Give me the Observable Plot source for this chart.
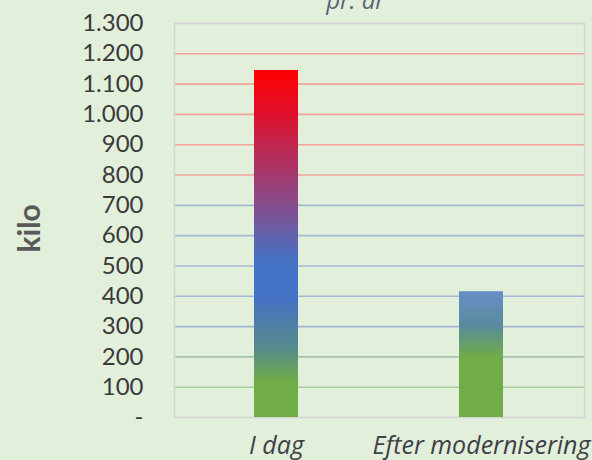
<!DOCTYPE html>
<html>
<head>
<meta charset="utf-8">
<script src="https://cdn.jsdelivr.net/npm/d3@7"></script>
<script src="https://cdn.jsdelivr.net/npm/@observablehq/plot@0.6"></script>
<style>
  html, body { margin: 0; padding: 0; background: #e2efda; }
  #chart { width: 592px; height: 460px; overflow: hidden; }
</style>
</head>
<body>
<div id="chart"></div>
<script>
const categories = ["I dag", "Efter modernisering"];
const values = [1145, 415];
const yTicks = [0, 100, 200, 300, 400, 500, 600, 700, 800, 900, 1000, 1100, 1200, 1300];
const gridValues = [100, 200, 300, 400, 500, 600, 700, 800, 900, 1000, 1100, 1200];
const titleText = "pr. år";
const yLabel = "kilo";

const data = categories.map((c, i) => ({category: c, value: values[i], idx: i}));

const fmt = v => v === 0 ? "-" : d3.format(",")(v).replace(/,/g, ".");
const gridColor = d3.scaleLinear()
  .domain([0, 100, 300, 750, 800, 1300])
  .range(["#a8cf96", "#a8cf96", "#a4b8d6", "#a4b8d6", "#f2a49c", "#f2a49c"])
  .clamp(true);

const defs = () => {
  const d = d3.create("svg:defs");
  const g0 = d.append("linearGradient").attr("id", "grad0")
    .attr("x1", 0).attr("y1", 0).attr("x2", 0).attr("y2", 1);
  [[0, "#ff0000"], [0.12, "#e0102a"], [0.38, "#8a4a8a"], [0.55, "#4472c4"], [0.66, "#4472c4"], [0.8, "#568a8c"], [0.9, "#70ad47"], [1, "#70ad47"]]
    .forEach(([o, c]) => g0.append("stop").attr("offset", o).attr("stop-color", c));
  const g1 = d.append("linearGradient").attr("id", "grad1")
    .attr("x1", 0).attr("y1", 0).attr("x2", 0).attr("y2", 1);
  [[0, "#6a8ec8"], [0.27, "#5a8a9e"], [0.53, "#70ad47"], [1, "#70ad47"]]
    .forEach(([o, c]) => g1.append("stop").attr("offset", o).attr("stop-color", c));
  return d.node();
};

const chart = Plot.plot({
  width: 592,
  height: 460,
  marginLeft: 174,
  marginRight: 8,
  marginTop: 23,
  marginBottom: 43,
  style: {background: "#e2efda", fontFamily: "Lato, sans-serif", overflow: "visible"},
  x: {domain: categories, paddingInner: 0.785, paddingOuter: 0.3925, label: null, tickSize: 0},
  y: {domain: [0, 1300], ticks: yTicks, tickFormat: fmt, label: null, tickSize: 0},
  marks: [
    defs,
    Plot.ruleY(gridValues, {stroke: d => gridColor(d), strokeWidth: 1.6}),
    Plot.frame({stroke: "#d4d4d4", strokeWidth: 1.5}),
    Plot.barY(data.filter(d => d.idx === 0), {x: "category", y: "value", fill: "url(#grad0)"}),
    Plot.barY(data.filter(d => d.idx === 1), {x: "category", y: "value", fill: "url(#grad1)"}),
    Plot.axisY({ticks: yTicks, tickFormat: fmt, tickSize: 0, tickPadding: 31, fontSize: 24, fill: "#3a3a3a", label: null}),
    Plot.axisX({tickSize: 0, tickPadding: 19, fontSize: 25, fontStyle: "italic", fontFamily: "Open Sans, sans-serif", fill: "#404048", label: null}),
    Plot.text([yLabel], {frameAnchor: "left", dx: -144, dy: 32, rotate: -90, fontSize: 30, fontWeight: "bold", fill: "#595959"}),
    Plot.text([titleText], {frameAnchor: "top", dx: -24, dy: -15, lineAnchor: "bottom", fontSize: 24, fontStyle: "italic", fontFamily: "Open Sans, sans-serif", fill: "#5a6478"})
  ]
});
document.getElementById("chart").appendChild(chart);
</script>
</body>
</html>
